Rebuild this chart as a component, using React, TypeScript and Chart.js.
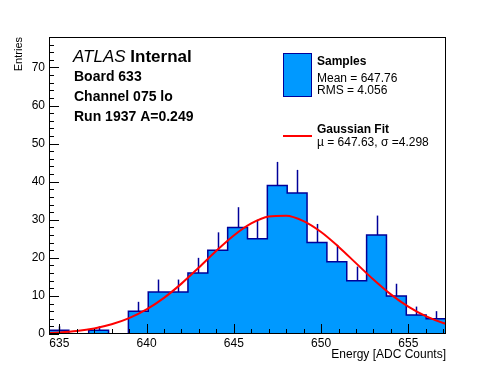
import React, { useEffect, useRef } from "react";
import { Chart, registerables } from "chart.js";

Chart.register(...registerables);

// ---- Data ----
const binEdges = [
  634.41, 635.5475, 636.685, 637.8225, 638.96, 640.0975, 641.235, 642.3725,
  643.51, 644.6475, 645.785, 646.9225, 648.06, 649.1975, 650.335, 651.4725,
  652.61, 653.7475, 654.885, 656.0225, 657.16,
];
const counts = [1, 0, 1, 0, 6, 11, 11, 16, 22, 28, 25, 39, 37, 24, 19, 14, 26, 10, 5, 4];
const errUp = [1, 0, 1, 0, 2.45, 3.3, 3.3, 4, 4.7, 5.3, 5, 6.2, 6.1, 4.9, 4.4, 3.7, 5.1, 3.2, 2.2, 2];

const fitX = [634, 635, 636, 637, 638, 639, 640, 641, 642, 643, 644, 645, 646, 647, 648, 649, 650, 651, 652, 653, 654, 655, 656, 657, 658];
const fitY = [0.2, 0.42, 0.8, 1.47, 2.54, 4.16, 6.45, 9.49, 13.23, 17.46, 21.84, 25.87, 29.03, 30.87, 31.08, 29.66, 26.8, 22.94, 18.61, 14.3, 10.4, 7.17, 4.68, 2.9, 1.7];

const xTicks = [635, 640, 645, 650, 655];
const yTicks = [0, 10, 20, 30, 40, 50, 60, 70];
const X_MIN = 634.41;
const X_MAX = 657.16;
const Y_MIN = 0;
const Y_MAX = 78;

const headerAtlas = "ATLAS";
const headerInternal = " Internal";
const headerLines = ["Board 633", "Channel 075 lo", "Run 1937 A=0.249"];
const legendSamples = ["Samples", "Mean = 647.76", "RMS = 4.056"];
const legendFit = ["Gaussian Fit", "\u00b5 = 647.63, \u03c3 =4.298"];
const xTitle = "Energy [ADC Counts]";
const yTitle = "Entries";

// ---- Styles ----
const FONT = '"Liberation Sans", Arial, Helvetica, sans-serif';
const FILL = "#0099ff";
const OUTLINE = "#000099";
const FIT = "#ff0000";

const decorPlugin = {
  id: "decor",
  beforeDatasetsDraw(chart: any) {
    const { ctx, scales } = chart;
    const x = scales.x;
    const y = scales.y;
    ctx.save();
    ctx.strokeStyle = OUTLINE;
    ctx.lineWidth = 1.5;
    counts.forEach((c, i) => {
      if (!errUp[i]) return;
      const cx = Math.round(x.getPixelForValue((binEdges[i] + binEdges[i + 1]) / 2)) + 0.5;
      ctx.beginPath();
      ctx.moveTo(cx, y.getPixelForValue(c));
      ctx.lineTo(cx, y.getPixelForValue(c + errUp[i]));
      ctx.stroke();
    });
    ctx.restore();
  },
  afterDatasetsDraw(chart: any) {
    const { ctx, chartArea: a, scales } = chart;
    const x = scales.x;
    const y = scales.y;
    ctx.save();
    ctx.strokeStyle = "#000";
    ctx.lineWidth = 1;
    // x ticks
    for (let v = Math.ceil(X_MIN); v <= X_MAX; v++) {
      const px = Math.round(x.getPixelForValue(v)) + 0.5;
      const len = v % 5 === 0 ? 10 : 5;
      ctx.beginPath();
      ctx.moveTo(px, a.bottom);
      ctx.lineTo(px, a.bottom - len);
      ctx.stroke();
    }
    // y ticks
    for (let v = 0; v <= Y_MAX; v += 2) {
      const py = Math.round(y.getPixelForValue(v)) + 0.5;
      const len = v % 10 === 0 ? 10 : 5;
      ctx.beginPath();
      ctx.moveTo(a.left, py);
      ctx.lineTo(a.left + len, py);
      ctx.stroke();
    }
    // frame
    ctx.strokeRect(a.left + 0.5, a.top + 0.5, a.right - a.left - 1, a.bottom - a.top - 1);
    ctx.restore();
  },
  afterDraw(chart: any) {
    const { ctx } = chart;
    ctx.save();
    ctx.fillStyle = "#000";
    ctx.textBaseline = "alphabetic";
    ctx.textAlign = "left";
    // ATLAS header
    ctx.font = `italic 17px ${FONT}`;
    ctx.fillText(headerAtlas, 73, 62);
    const w = ctx.measureText(headerAtlas).width;
    ctx.font = `bold 17px ${FONT}`;
    ctx.fillText(headerInternal, 73 + w, 62);
    ctx.font = `bold 14px ${FONT}`;
    headerLines.forEach((t, i) => ctx.fillText(t, 74, 81 + i * 20));

    // Legend: samples
    ctx.fillStyle = FILL;
    ctx.fillRect(283, 53, 28, 43);
    ctx.strokeStyle = OUTLINE;
    ctx.lineWidth = 1;
    ctx.strokeRect(283.5, 53.5, 28, 43);
    ctx.fillStyle = "#000";
    ctx.font = `bold 12px ${FONT}`;
    ctx.fillText(legendSamples[0], 317, 65);
    ctx.font = `12px ${FONT}`;
    ctx.fillText(legendSamples[1], 317, 81.5);
    ctx.fillText(legendSamples[2], 317, 94);

    // Legend: fit
    ctx.strokeStyle = FIT;
    ctx.lineWidth = 2;
    ctx.beginPath();
    ctx.moveTo(283, 136);
    ctx.lineTo(312, 136);
    ctx.stroke();
    ctx.font = `bold 12px ${FONT}`;
    ctx.fillText(legendFit[0], 317, 133);
    ctx.font = `12px ${FONT}`;
    ctx.fillText(legendFit[1], 317, 145.5);
    ctx.restore();
  },
};

export default function App() {
  const ref = useRef<HTMLCanvasElement>(null);

  useEffect(() => {
    if (!ref.current) return;
    const histData: { x: number; y: number }[] = [{ x: binEdges[0], y: 0 }];
    counts.forEach((c, i) => histData.push({ x: binEdges[i], y: c }));
    histData.push({ x: binEdges[binEdges.length - 1], y: counts[counts.length - 1] });
    histData.push({ x: binEdges[binEdges.length - 1], y: 0 });
    const fitData = fitX.map((x, i) => ({ x, y: fitY[i] }));

    const chart = new Chart(ref.current, {
      type: "line",
      data: {
        datasets: [
          {
            label: "Samples",
            data: histData,
            stepped: "before",
            fill: "origin",
            backgroundColor: FILL,
            borderColor: OUTLINE,
            borderWidth: 1.5,
            pointRadius: 0,
            order: 2,
          },
          {
            label: "Gaussian Fit",
            data: fitData,
            fill: false,
            borderColor: FIT,
            borderWidth: 2,
            pointRadius: 0,
            cubicInterpolationMode: "monotone",
            order: 1,
          },
        ],
      },
      options: {
        animation: false,
        responsive: false,
        maintainAspectRatio: false,
        parsing: true,
        layout: { padding: { left: 0, right: 50, top: 37, bottom: 0 } },
        plugins: {
          legend: { display: false },
          tooltip: { enabled: false },
          title: { display: false },
        },
        scales: {
          x: {
            type: "linear",
            min: X_MIN,
            max: X_MAX,
            grid: { display: false, drawTicks: false },
            border: { display: false },
            afterBuildTicks: (s: any) => {
              s.ticks = xTicks.map((v) => ({ value: v }));
            },
            afterFit: (s: any) => {
              s.height = 38;
            },
            ticks: {
              color: "#000",
              font: { family: FONT, size: 12 },
              padding: 2,
              maxRotation: 0,
              autoSkip: false,
              callback: (v: any) => String(v),
            },
            title: {
              display: true,
              text: xTitle,
              align: "end",
              color: "#000",
              font: { family: FONT, size: 12 },
              padding: { top: 0, bottom: 10 },
            },
          },
          y: {
            type: "linear",
            min: Y_MIN,
            max: Y_MAX,
            grid: { display: false, drawTicks: false },
            border: { display: false },
            afterBuildTicks: (s: any) => {
              s.ticks = yTicks.map((v) => ({ value: v }));
            },
            afterFit: (s: any) => {
              s.width = 49;
            },
            ticks: {
              color: "#000",
              font: { family: FONT, size: 12 },
              padding: 4,
              autoSkip: false,
              callback: (v: any) => String(v),
            },
            title: {
              display: true,
              text: yTitle,
              align: "end",
              color: "#000",
              font: { family: FONT, size: 11 },
              padding: { top: 12, bottom: 0 },
            },
          },
        },
      },
      plugins: [decorPlugin],
    } as any);
    return () => chart.destroy();
  }, []);

  return (
    <div style={{ position: "absolute", left: 0, top: 0, width: 496, height: 372, background: "#fff" }}>
      <canvas ref={ref} width={496} height={372} style={{ display: "block", width: 496, height: 372 }} />
    </div>
  );
}
